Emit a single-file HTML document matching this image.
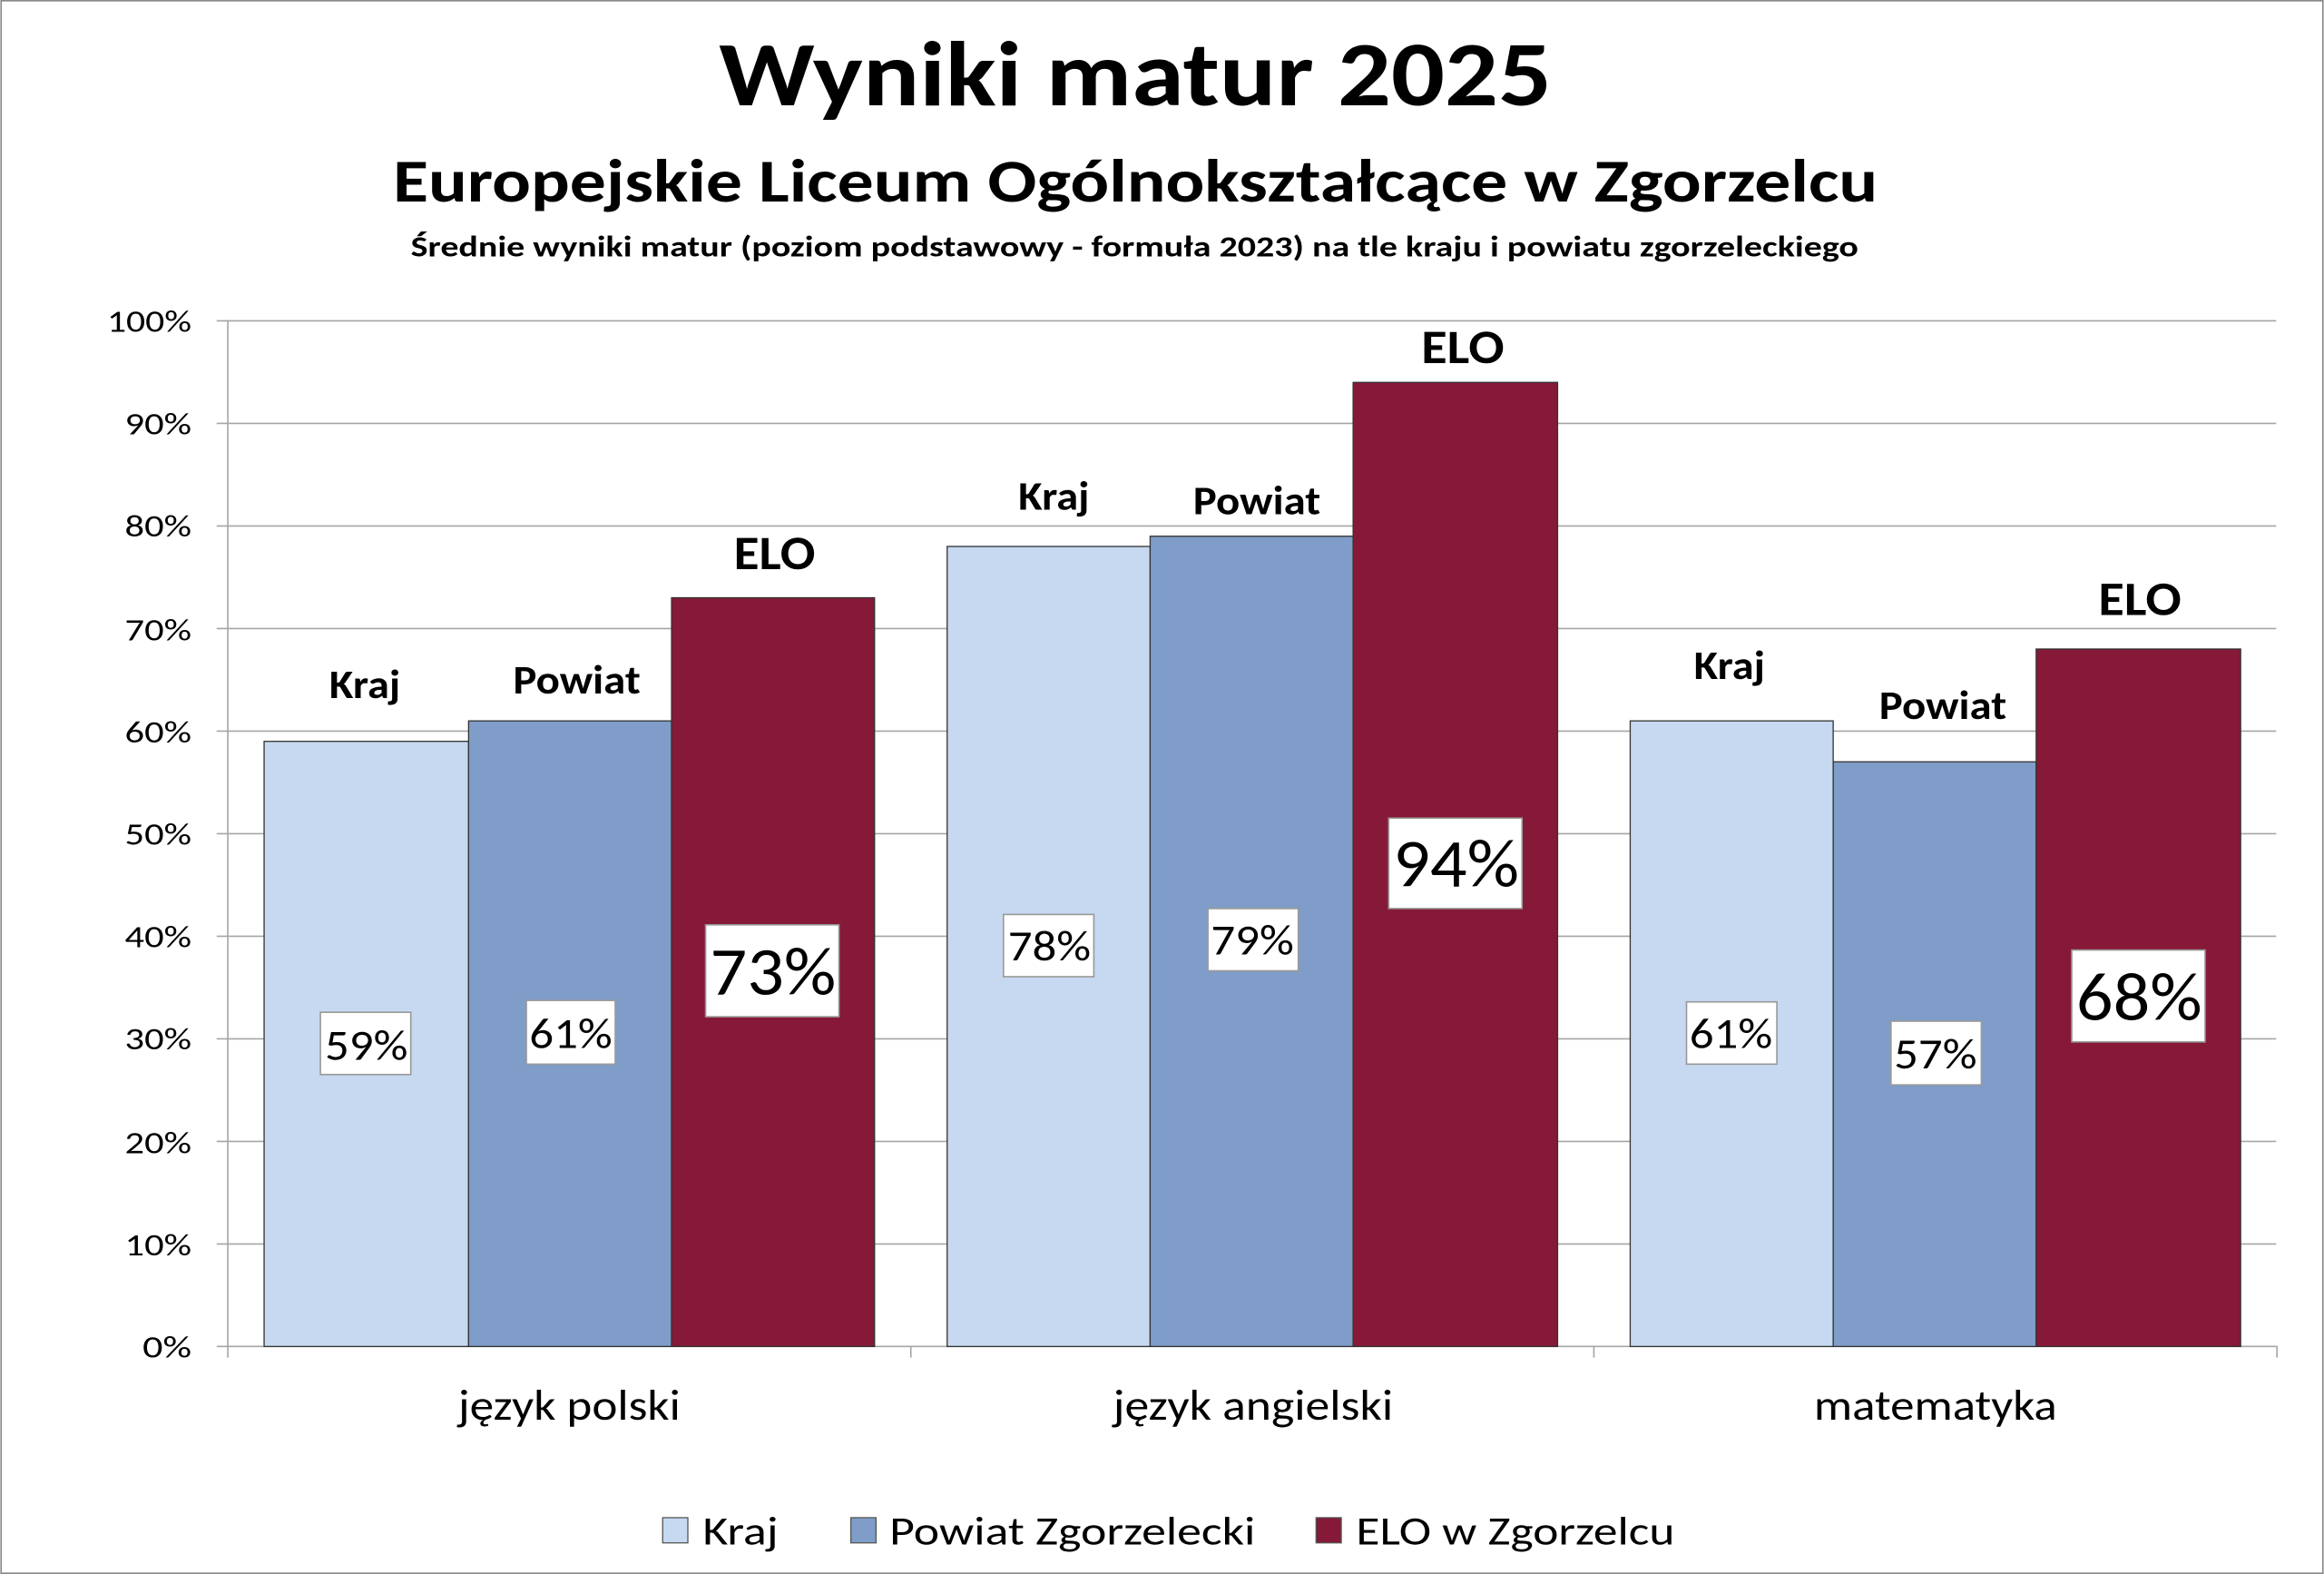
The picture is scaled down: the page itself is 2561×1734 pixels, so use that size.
<!DOCTYPE html>
<html><head><meta charset="utf-8"><style>
html,body{margin:0;padding:0;background:#fff}
svg{display:block}
text{font-family:"Carlito","Liberation Sans",sans-serif}
</style></head><body>
<svg width="2561" height="1734" viewBox="0 0 1568 1062" xmlns="http://www.w3.org/2000/svg">
<rect x="0.5" y="0.5" width="1567" height="1061" fill="#fff" stroke="#888" stroke-width="1"/>
<text x="485" y="71" font-size="62" font-weight="bold" textLength="562" lengthAdjust="spacingAndGlyphs">Wyniki matur 2025</text>
<text x="265" y="136" font-size="41" font-weight="bold" textLength="1002" lengthAdjust="spacingAndGlyphs">Europejskie Liceum Ogólnokształcące w Zgorzelcu</text>
<text x="277" y="173" font-size="20" font-weight="bold" textLength="977" lengthAdjust="spacingAndGlyphs">Średnie wyniki matur (poziom podstawowy - formuła 2023) na tle kraju i powiatu zgorzeleckiego</text>
<g stroke="#a6a6a6" stroke-width="1">
<line x1="146" y1="216.5" x2="1536" y2="216.5"/>
<line x1="146" y1="285.7" x2="1536" y2="285.7"/>
<line x1="146" y1="354.9" x2="1536" y2="354.9"/>
<line x1="146" y1="424.1" x2="1536" y2="424.1"/>
<line x1="146" y1="493.3" x2="1536" y2="493.3"/>
<line x1="146" y1="562.5" x2="1536" y2="562.5"/>
<line x1="146" y1="631.7" x2="1536" y2="631.7"/>
<line x1="146" y1="700.9" x2="1536" y2="700.9"/>
<line x1="146" y1="770.1" x2="1536" y2="770.1"/>
<line x1="146" y1="839.3" x2="1536" y2="839.3"/>
<line x1="146" y1="908.5" x2="1536" y2="908.5"/>
<line x1="153.5" y1="216" x2="153.5" y2="916"/>
<line x1="614.5" y1="908" x2="614.5" y2="916"/>
<line x1="1075.5" y1="908" x2="1075.5" y2="916"/>
<line x1="1536.5" y1="908" x2="1536.5" y2="916"/>
</g>
<g font-size="21" text-anchor="end" fill="#000" lengthAdjust="spacingAndGlyphs">
<text x="129" y="224" textLength="57" lengthAdjust="spacingAndGlyphs">100%</text>
<text x="129" y="293" textLength="45" lengthAdjust="spacingAndGlyphs">90%</text>
<text x="129" y="362" textLength="45" lengthAdjust="spacingAndGlyphs">80%</text>
<text x="129" y="432" textLength="45" lengthAdjust="spacingAndGlyphs">70%</text>
<text x="129" y="501" textLength="45" lengthAdjust="spacingAndGlyphs">60%</text>
<text x="129" y="570" textLength="45" lengthAdjust="spacingAndGlyphs">50%</text>
<text x="129" y="639" textLength="45" lengthAdjust="spacingAndGlyphs">40%</text>
<text x="129" y="708" textLength="45" lengthAdjust="spacingAndGlyphs">30%</text>
<text x="129" y="778" textLength="45" lengthAdjust="spacingAndGlyphs">20%</text>
<text x="129" y="847" textLength="45" lengthAdjust="spacingAndGlyphs">10%</text>
<text x="129" y="916" textLength="33" lengthAdjust="spacingAndGlyphs">0%</text>
</g>
<g stroke="#333" stroke-width="0.8">
<rect x="178" y="500.2" width="138" height="408.3" fill="#c6d9f1"/>
<rect x="316" y="486.4" width="137" height="422.1" fill="#7f9dc8"/>
<rect x="453" y="403.3" width="137" height="505.2" fill="#861937"/>
<rect x="639" y="368.7" width="137" height="539.8" fill="#c6d9f1"/>
<rect x="776" y="361.8" width="137" height="546.7" fill="#7f9dc8"/>
<rect x="913" y="258" width="138" height="650.5" fill="#861937"/>
<rect x="1100" y="486.4" width="137" height="422.1" fill="#c6d9f1"/>
<rect x="1237" y="514" width="137" height="394.5" fill="#7f9dc8"/>
<rect x="1374" y="437.9" width="138" height="470.6" fill="#861937"/>
</g>
<g fill="#fff" stroke="#999" stroke-width="1">
<rect x="216" y="683" width="61" height="42"/>
<rect x="355" y="675" width="60" height="43"/>
<rect x="476" y="624" width="90" height="62"/>
<rect x="677" y="617" width="61" height="42"/>
<rect x="815" y="613" width="61" height="42"/>
<rect x="937" y="552" width="90" height="61"/>
<rect x="1138" y="676" width="61" height="42"/>
<rect x="1276" y="689" width="61" height="43"/>
<rect x="1398" y="641" width="90" height="62"/>
</g>
<g font-size="29">
<text x="219" y="715" textLength="56" lengthAdjust="spacingAndGlyphs">59%</text>
<text x="357" y="707" textLength="56" lengthAdjust="spacingAndGlyphs">61%</text>
<text x="680" y="648" textLength="56" lengthAdjust="spacingAndGlyphs">78%</text>
<text x="817" y="644" textLength="56" lengthAdjust="spacingAndGlyphs">79%</text>
<text x="1140" y="707" textLength="56" lengthAdjust="spacingAndGlyphs">61%</text>
<text x="1278" y="721" textLength="56" lengthAdjust="spacingAndGlyphs">57%</text>
</g>
<g font-size="46">
<text x="479" y="671" textLength="85" lengthAdjust="spacingAndGlyphs">73%</text>
<text x="940" y="598" textLength="85" lengthAdjust="spacingAndGlyphs">94%</text>
<text x="1401" y="688" textLength="85" lengthAdjust="spacingAndGlyphs">68%</text>
</g>
<g font-size="27" font-weight="bold">
<text x="222" y="471" textLength="48" lengthAdjust="spacingAndGlyphs">Kraj</text>
<text x="346" y="468" textLength="86" lengthAdjust="spacingAndGlyphs">Powiat</text>
<text x="687" y="344" textLength="48" lengthAdjust="spacingAndGlyphs">Kraj</text>
<text x="805" y="347" textLength="86" lengthAdjust="spacingAndGlyphs">Powiat</text>
<text x="1143" y="458" textLength="48" lengthAdjust="spacingAndGlyphs">Kraj</text>
<text x="1268" y="485" textLength="86" lengthAdjust="spacingAndGlyphs">Powiat</text>
</g>
<g font-size="32" font-weight="bold">
<text x="495" y="384" textLength="55" lengthAdjust="spacingAndGlyphs">ELO</text>
<text x="959" y="245" textLength="56" lengthAdjust="spacingAndGlyphs">ELO</text>
<text x="1416" y="415" textLength="56" lengthAdjust="spacingAndGlyphs">ELO</text>
</g>
<g font-size="29">
<text x="309" y="958" textLength="150" lengthAdjust="spacingAndGlyphs">język polski</text>
<text x="751" y="958" textLength="189" lengthAdjust="spacingAndGlyphs">język angielski</text>
<text x="1224" y="958" textLength="164" lengthAdjust="spacingAndGlyphs">matematyka</text>
</g>
<rect x="447" y="1024" width="17" height="17" fill="#c6d9f1" stroke="#555" stroke-width="0.8"/>
<rect x="574" y="1024" width="17" height="17" fill="#7f9dc8" stroke="#555" stroke-width="0.8"/>
<rect x="888" y="1024" width="17" height="17" fill="#861937" stroke="#555" stroke-width="0.8"/>
<g font-size="27">
<text x="474" y="1042" textLength="51" lengthAdjust="spacingAndGlyphs">Kraj</text>
<text x="600" y="1042" textLength="247" lengthAdjust="spacingAndGlyphs">Powiat Zgorzelecki</text>
<text x="915" y="1042" textLength="215" lengthAdjust="spacingAndGlyphs">ELO w Zgorzelcu</text>
</g>
</svg>
</body></html>
